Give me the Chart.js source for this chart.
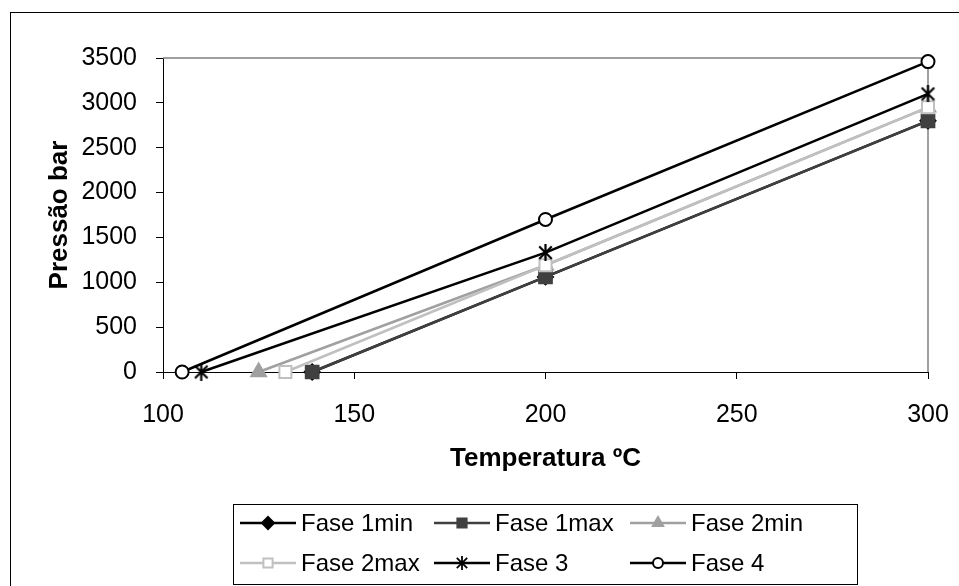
<!DOCTYPE html>
<html><head><meta charset="utf-8">
<script src="https://cdn.jsdelivr.net/npm/chart.js@4/dist/chart.umd.min.js"></script>
<style>html,body{margin:0;padding:0;background:#fff;}#wrap{position:relative;width:959px;height:586px;}</style>
</head><body><div id="wrap"><canvas id="c" width="959" height="586"></canvas></div>
<script>
// ---- data ----
const seriesNames = ["Fase 1min", "Fase 1max", "Fase 2min", "Fase 2max", "Fase 3", "Fase 4"];
const fase1minTemp = [139, 200, 300];
const fase1minPress = [0, 1060, 2800];
const fase1maxTemp = [139, 200, 300];
const fase1maxPress = [0, 1060, 2800];
const fase2minTemp = [125, 200, 300];
const fase2minPress = [0, 1190, 2950];
const fase2maxTemp = [132, 200, 300];
const fase2maxPress = [0, 1190, 2950];
const fase3Temp = [110, 200, 300];
const fase3Press = [0, 1330, 3100];
const fase4Temp = [105, 200, 300];
const fase4Press = [0, 1700, 3460];
const xTicks = [100, 150, 200, 250, 300];
const yTicks = [0, 500, 1000, 1500, 2000, 2500, 3000, 3500];

const FONT = "'Liberation Sans', Arial, sans-serif";

function asterisk(size, lw) {
  const c = document.createElement('canvas');
  c.width = size; c.height = size;
  const g = c.getContext('2d');
  g.strokeStyle = '#000'; g.lineWidth = lw; g.lineCap = 'butt';
  const m = lw, s = size;
  g.beginPath();
  g.moveTo(m, m); g.lineTo(s - m, s - m);
  g.moveTo(s - m, m); g.lineTo(m, s - m);
  g.moveTo(s / 2, 0); g.lineTo(s / 2, s);
  g.stroke();
  return c;
}
const astBig = asterisk(17, 2.2);
const astSmall = asterisk(14, 1.8);

function pts(xs, ys) { return xs.map((x, i) => ({ x: x, y: ys[i] })); }

const styles = [
  { color: '#000000', style: 'rectRot', bg: '#000000', r: 7.5, lr: 6 },
  { color: '#404040', style: 'rect', bg: '#404040', r: 9, lr: 6.5 },
  { color: '#a0a0a0', style: 'triangle', bg: '#a0a0a0', r: 8.5, lr: 6 },
  { color: '#c0c0c0', style: 'rect', bg: '#ffffff', r: 8.5, lr: 6.5 },
  { color: '#000000', style: astBig, bg: '#000000', r: 8, lr: 6, legendImg: astSmall },
  { color: '#000000', style: 'circle', bg: '#ffffff', r: 6.5, lr: 5 }
];
const seriesData = [
  pts(fase1minTemp, fase1minPress), pts(fase1maxTemp, fase1maxPress),
  pts(fase2minTemp, fase2minPress), pts(fase2maxTemp, fase2maxPress),
  pts(fase3Temp, fase3Press), pts(fase4Temp, fase4Press)
];

const datasets = seriesNames.map((n, i) => ({
  label: n,
  data: seriesData[i],
  showLine: true,
  clip: false,
  borderColor: styles[i].color,
  backgroundColor: styles[i].bg,
  borderWidth: 2.5,
  pointStyle: styles[i].style,
  pointRadius: styles[i].r,
  pointBorderWidth: 2,
  pointBorderColor: styles[i].color,
  pointBackgroundColor: styles[i].bg,
  order: seriesNames.length - 1 - i
}));

const frame = {
  id: 'frame',
  beforeDraw(chart) {
    const ctx = chart.ctx;
    ctx.save();
    ctx.fillStyle = '#fff';
    ctx.fillRect(0, 0, chart.width, chart.height);
    ctx.strokeStyle = '#000'; ctx.lineWidth = 1;
    ctx.strokeRect(10.5, 12.5, 1000, 1000);
    ctx.restore();
  },
  beforeDatasetsDraw(chart) {
    const a = chart.chartArea, ctx = chart.ctx;
    ctx.save();
    ctx.strokeStyle = '#808080'; ctx.lineWidth = 1.5;
    ctx.beginPath();
    ctx.moveTo(a.left, a.top); ctx.lineTo(a.right, a.top); ctx.lineTo(a.right, a.bottom);
    ctx.stroke();
    ctx.restore();
  },
  afterDraw(chart) {
    const ctx = chart.ctx;
    ctx.save();
    ctx.strokeStyle = '#000'; ctx.lineWidth = 1;
    ctx.strokeRect(233.5, 504.5, 624, 80);
    const cols = [240, 434, 630];
    const rows = [523, 563];
    ctx.font = '24px ' + FONT;
    ctx.textBaseline = 'middle';
    ctx.fillStyle = '#000';
    seriesNames.forEach((n, i) => {
      const sx = cols[i % 3], y = rows[Math.floor(i / 3)];
      const st = styles[i];
      ctx.strokeStyle = st.color; ctx.lineWidth = 2.5;
      ctx.beginPath(); ctx.moveTo(sx, y); ctx.lineTo(sx + 56, y); ctx.stroke();
      ctx.fillStyle = st.bg; ctx.strokeStyle = st.color; ctx.lineWidth = 2;
      Chart.helpers.drawPoint(ctx, { pointStyle: st.legendImg || st.style, radius: st.lr, borderWidth: 2, rotation: 0 }, sx + 28, y);
      ctx.fillStyle = '#000';
      ctx.fillText(n, sx + 61, y + 1);
    });
    ctx.restore();
  }
};

new Chart(document.getElementById('c'), {
  type: 'scatter',
  data: { datasets },
  options: {
    responsive: false, animation: false, devicePixelRatio: 1,
    layout: { padding: { left: 0, top: 58, right: 31, bottom: 0 } },
    plugins: { legend: { display: false }, tooltip: { enabled: false } },
    scales: {
      x: {
        type: 'linear', min: xTicks[0], max: xTicks[xTicks.length - 1],
        afterBuildTicks: s => { s.ticks = xTicks.map(v => ({ value: v })); },
        afterFit: s => { s.height = 214; s.paddingRight = 0; s.paddingLeft = 0; },
        ticks: { color: '#000', font: { family: FONT, size: 25 }, padding: 21, maxRotation: 0, callback: v => String(v) },
        grid: { drawOnChartArea: false, drawTicks: true, tickLength: 7, tickColor: '#000', tickWidth: 1 },
        border: { color: '#000', width: 1 },
        title: { display: true, text: 'Temperatura ºC', color: '#000', font: { family: FONT, size: 26, weight: 'bold' }, padding: { top: 0, bottom: 112 } }
      },
      y: {
        type: 'linear', min: yTicks[0], max: yTicks[yTicks.length - 1],
        afterBuildTicks: s => { s.ticks = yTicks.map(v => ({ value: v })); },
        afterFit: s => { s.width = 163; s.paddingTop = 0; s.paddingBottom = 0; },
        ticks: { color: '#000', font: { family: FONT, size: 25 }, padding: 19, callback: v => String(v) },
        grid: { drawOnChartArea: false, drawTicks: true, tickLength: 7, tickColor: '#000', tickWidth: 1 },
        border: { color: '#000', width: 1 },
        title: { display: true, text: 'Pressão bar', color: '#000', font: { family: FONT, size: 26, weight: 'bold' }, padding: { top: 44, bottom: 0 } }
      }
    }
  },
  plugins: [frame]
});
</script></body></html>
